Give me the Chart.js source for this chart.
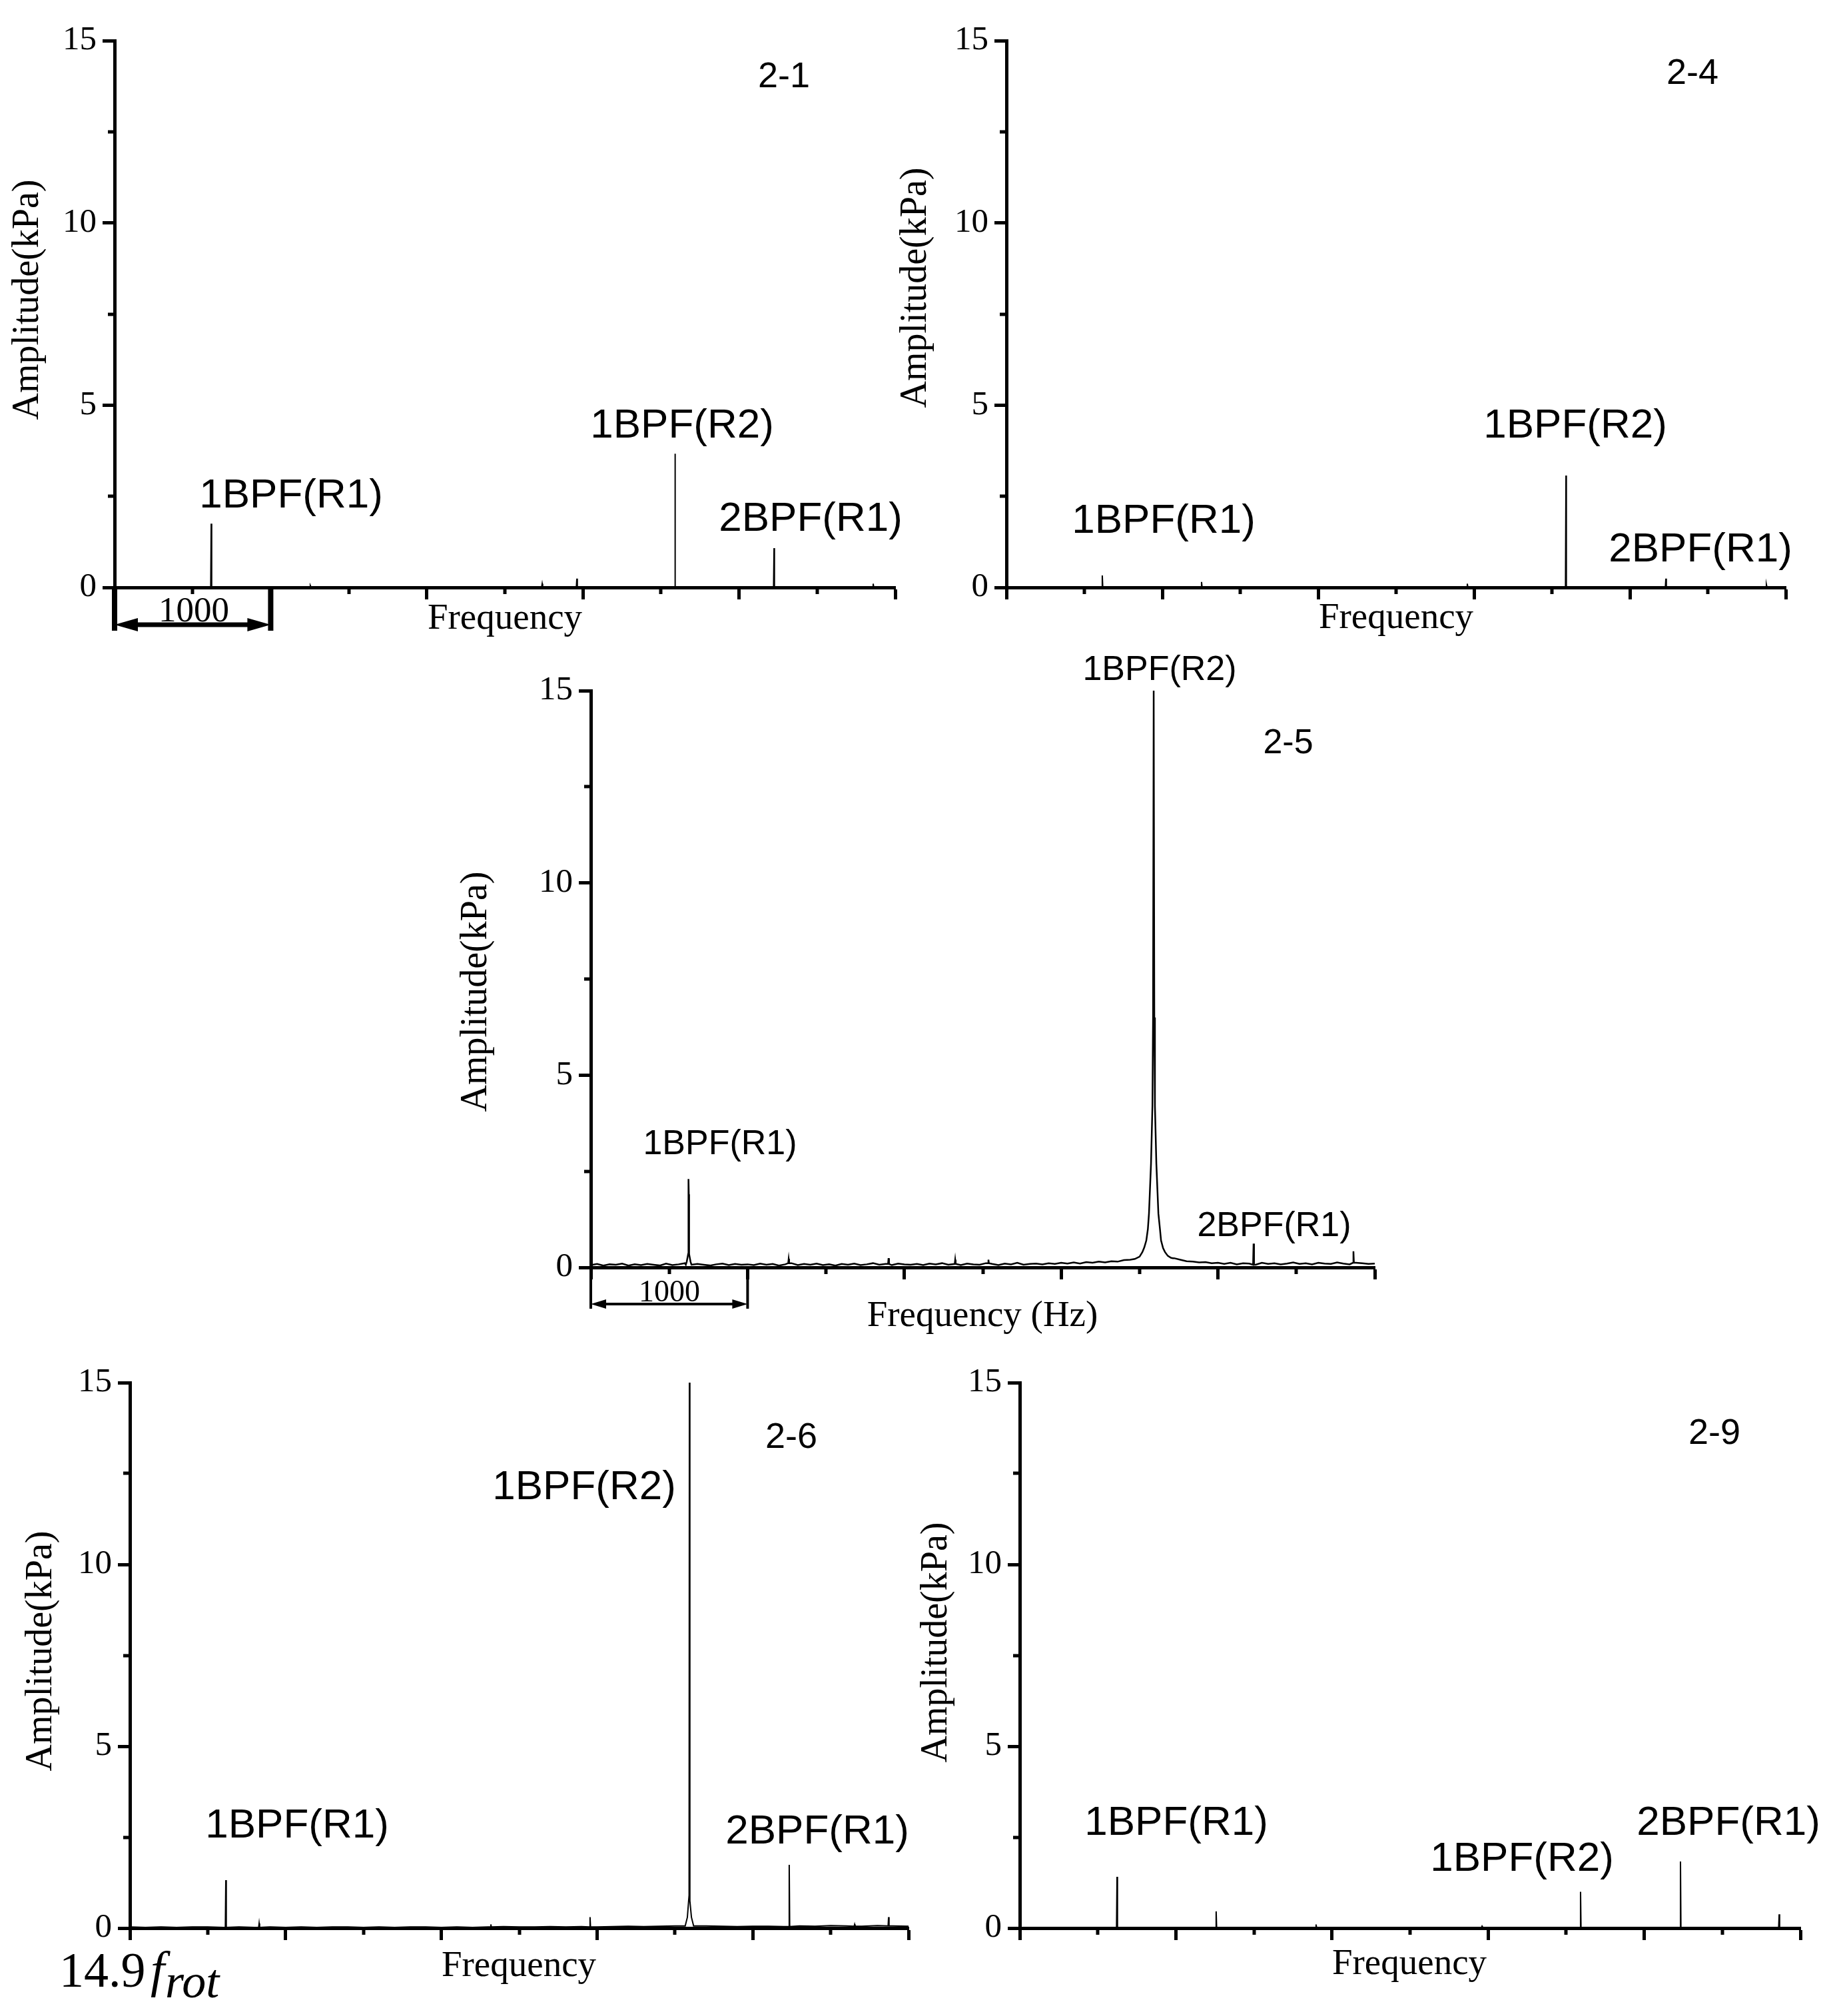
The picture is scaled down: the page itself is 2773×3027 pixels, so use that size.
<!DOCTYPE html>
<html lang="en">
<head>
    <meta charset="UTF-8">
    <title>Pressure amplitude spectra 2-1 / 2-4 / 2-5 / 2-6 / 2-9</title>
    <script src="https://cdn.jsdelivr.net/npm/chart.js"></script>
    <style>
        * { margin: 0; padding: 0; box-sizing: border-box; }
        body {
            width: 2773px;
            height: 3027px;
            background: #fff;
            position: relative;
            overflow: hidden;
        }
        canvas { position: absolute; }
    </style>
</head>
<body>
    <canvas id="c21"></canvas>
    <canvas id="c24"></canvas>
    <canvas id="c25"></canvas>
    <canvas id="c26"></canvas>
    <canvas id="c29"></canvas>

    <script>
        // ---------- shared axes ----------
        const xRange = [0, 5000];          // Hz
        const xMajorStep = 1000;
        const xMinorTicks = [500, 1500, 2500, 3500, 4500];
        const yRange = [0, 15];            // kPa
        const yMajorStep = 5;
        const yMinorTicks = [2.5, 7.5, 12.5];
        const bracketHz = 1000;            // the "1000" span marker

        // ---------- 2-1 ----------
        const floor21Step = 500;
        const floor21 = [0.02, 0.02, 0.02, 0.02, 0.02, 0.02, 0.02, 0.02, 0.02, 0.02, 0.02];
        const spike21Hz  = [619, 1254, 2739, 2961, 3589, 3591, 4224, 4226, 4859];
        const spike21KPa = [1.75, 0.05, 0.10, 0.24, 3.67, 1.13, 1.08, 0.37, 0.10];

        // ---------- 2-4 ----------
        const floor24Step = 500;
        const floor24 = [0.02, 0.02, 0.02, 0.02, 0.02, 0.02, 0.02, 0.02, 0.02, 0.02, 0.02];
        const spike24Hz  = [615, 1252, 2957, 3590, 3592, 4231, 4876];
        const spike24KPa = [0.33, 0.15, 0.10, 3.07, 0.77, 0.24, 0.08];

        // ---------- 2-5 (measured noise floor, 40 Hz bins) ----------
        const floor25Step = 40;
        const floor25 = [
            0.06, 0.09, 0.05, 0.08, 0.07, 0.10, 0.05, 0.08, 0.06, 0.09, 0.07, 0.05, 0.10,
            0.06, 0.08, 0.11, 0.06, 0.09, 0.07, 0.05, 0.08, 0.10, 0.06, 0.09, 0.07, 0.08,
            0.06, 0.10, 0.07, 0.09, 0.05, 0.08, 0.11, 0.06, 0.09, 0.07, 0.10, 0.06, 0.08,
            0.05, 0.09, 0.07, 0.10, 0.06, 0.08, 0.11, 0.07, 0.09, 0.06, 0.10, 0.08,
            0.07, 0.09, 0.06, 0.10, 0.08, 0.11, 0.07, 0.09, 0.06, 0.10, 0.08, 0.07, 0.11,
            0.09, 0.06, 0.10, 0.08, 0.12, 0.07, 0.09, 0.10, 0.08, 0.11, 0.09, 0.12,
            0.10, 0.13, 0.10, 0.14, 0.12, 0.15, 0.13, 0.16, 0.15, 0.19, 0.20, 0.26, 0.34,
            0.40, 0.50, 0.40, 0.30, 0.24, 0.20, 0.16, 0.15, 0.13, 0.14, 0.11, 0.12,
            0.09, 0.12, 0.08, 0.11, 0.10, 0.07, 0.12, 0.09, 0.11, 0.08, 0.10, 0.13, 0.09,
            0.11, 0.08, 0.12, 0.10, 0.09, 0.13, 0.10, 0.08, 0.12, 0.11, 0.09, 0.10
        ];
        const spike25Hz  = [1262, 1899, 2324, 2536, 4227, 4864];
        const spike25KPa = [0.22, 0.24, 0.20, 0.20, 0.62, 0.42];
        const peak25R1Hz  = [606, 612, 618, 621, 623, 625, 627, 630, 636, 642];
        const peak25R1KPa = [0.07, 0.15, 0.28, 0.35, 2.30, 1.90, 0.35, 0.28, 0.15, 0.07];
        const peak25R2Hz  = [3470, 3500, 3518, 3530, 3543, 3553, 3560, 3573, 3582, 3586, 3590,
                             3594, 3598, 3607, 3620, 3630, 3637, 3650, 3662, 3680, 3700, 3712];
        const peak25R2KPa = [0.22, 0.28, 0.40, 0.52, 0.70, 1.00, 1.40, 2.70, 4.20, 6.50, 15.0,
                             6.50, 4.20, 2.70, 1.40, 1.00, 0.70, 0.50, 0.40, 0.30, 0.25, 0.24];

        // ---------- 2-6 ----------
        const floor26Step = 100;
        const floor26 = [
            0.03, 0.02, 0.03, 0.02, 0.03, 0.03, 0.02, 0.03, 0.02, 0.03, 0.02,
            0.03, 0.02, 0.03, 0.03, 0.02, 0.03, 0.02, 0.03, 0.03, 0.02,
            0.03, 0.02, 0.03, 0.04, 0.03, 0.03, 0.04, 0.03, 0.04, 0.03,
            0.04, 0.05, 0.04, 0.05, 0.06, 0.08, 0.06, 0.05, 0.04, 0.05,
            0.05, 0.04, 0.06, 0.05, 0.07, 0.06, 0.05, 0.07, 0.06, 0.05
        ];
        const spike26Hz  = [616, 830, 2318, 2955, 4234, 4654, 4872];
        const spike26KPa = [1.32, 0.13, 0.10, 0.30, 1.74, 0.10, 0.30];
        const peak26R2Hz  = [3566, 3580, 3588, 3591, 3593, 3595, 3597, 3606, 3620];
        const peak26R2KPa = [0.06, 0.30, 0.75, 0.90, 15.2, 4.12, 0.75, 0.30, 0.06];

        // ---------- 2-9 ----------
        const floor29Step = 500;
        const floor29 = [0.02, 0.02, 0.02, 0.02, 0.02, 0.02, 0.02, 0.02, 0.02, 0.02, 0.02];
        const spike29Hz  = [623, 1258, 1898, 2961, 3592, 4232, 4864];
        const spike29KPa = [1.41, 0.46, 0.10, 0.05, 1.00, 1.83, 0.38];

        // join floor bins, narrow lines and measured peak shapes into one sorted trace
        function buildSpectrum(step, floor, spikeHz, spikeKPa, shapes) {
            const windows = spikeHz.map(f => [f - 4, f + 4])
                .concat(shapes.map(s => [s[0][0], s[0][s[0].length - 1]]));
            const pts = [];
            floor.forEach((v, i) => {
                const f = i * step;
                if (!windows.some(w => f >= w[0] - 1 && f <= w[1] + 1)) pts.push({ x: f, y: v });
            });
            const base = f => floor[Math.round(f / step)];
            spikeHz.forEach((f, i) => {
                pts.push({ x: f - 3, y: base(f) }, { x: f, y: spikeKPa[i] }, { x: f + 3, y: base(f) });
            });
            shapes.forEach(s => s[0].forEach((f, i) => pts.push({ x: f, y: s[1][i] })));
            return pts.sort((a, b) => a.x - b.x);
        }

        // ---------- layout ----------
        const SANS = "'Liberation Sans', Arial, sans-serif";
        const SERIF = "'Liberation Serif', 'Times New Roman', serif";
        const AXIS_W = 80;
        const AXIS_H = 40;
        const AXIS_LINE = 5;

        const panels = [
            {
                id: 'c21', box: [0, 0, 1400, 1000], area: [172, 61, 1344, 882], lineWidth: 2,
                points: buildSpectrum(floor21Step, floor21, spike21Hz, spike21KPa, []),
                texts: [
                    { t: '2-1', x: 1177, y: 131, font: '54px ' + SANS },
                    { t: '1BPF(R1)', x: 437, y: 762, font: '62px ' + SANS },
                    { t: '1BPF(R2)', x: 1024, y: 657, font: '62px ' + SANS },
                    { t: '2BPF(R1)', x: 1217, y: 797, font: '62px ' + SANS },
                    { t: 'Frequency', x: 758, y: 944, font: '55px ' + SERIF },
                    { t: 'Amplitude(kPa)', x: 57, y: 450, font: '56px ' + SERIF, rot: true }
                ],
                bracket: { top: 883, bottom: 947, arrowY: 938, bar: 8, line: 7, head: 35, headW: 10,
                           textX: 291, textY: 933, font: '53px ' + SERIF }
            },
            {
                id: 'c24', box: [1350, 0, 1423, 1000], area: [1511, 61, 2681, 882], lineWidth: 2,
                points: buildSpectrum(floor24Step, floor24, spike24Hz, spike24KPa, []),
                texts: [
                    { t: '2-4', x: 2541, y: 126, font: '54px ' + SANS },
                    { t: '1BPF(R2)', x: 2365, y: 657, font: '62px ' + SANS },
                    { t: '1BPF(R1)', x: 1747, y: 800, font: '62px ' + SANS },
                    { t: '2BPF(R1)', x: 2553, y: 843, font: '62px ' + SANS },
                    { t: 'Frequency', x: 2096, y: 943, font: '55px ' + SERIF },
                    { t: 'Amplitude(kPa)', x: 1390, y: 432, font: '56px ' + SERIF, rot: true }
                ]
            },
            {
                id: 'c25', box: [650, 960, 1500, 1060], area: [887, 1037, 2064, 1903], lineWidth: 2.5,
                points: buildSpectrum(floor25Step, floor25, spike25Hz, spike25KPa,
                    [[peak25R1Hz, peak25R1KPa], [peak25R2Hz, peak25R2KPa]]),
                texts: [
                    { t: '1BPF(R2)', x: 1741, y: 1021, font: '52px ' + SANS },
                    { t: '2-5', x: 1934, y: 1131, font: '52px ' + SANS },
                    { t: '1BPF(R1)', x: 1081, y: 1733, font: '52px ' + SANS },
                    { t: '2BPF(R1)', x: 1913, y: 1856, font: '52px ' + SANS },
                    { t: 'Frequency (Hz)', x: 1475, y: 1991, font: '55px ' + SERIF },
                    { t: 'Amplitude(kPa)', x: 730, y: 1489, font: '56px ' + SERIF, rot: true }
                ],
                bracket: { top: 1903, bottom: 1965, arrowY: 1958, bar: 4, line: 4, head: 23, headW: 7,
                           textX: 1005, textY: 1954, font: '46px ' + SERIF }
            },
            {
                id: 'c26', box: [0, 2020, 1400, 1007], area: [195, 2076, 1364, 2895], lineWidth: 2,
                points: buildSpectrum(floor26Step, floor26, spike26Hz, spike26KPa, [[peak26R2Hz, peak26R2KPa]]),
                texts: [
                    { t: '2-6', x: 1188, y: 2174, font: '54px ' + SANS },
                    { t: '1BPF(R2)', x: 877, y: 2251, font: '62px ' + SANS },
                    { t: '1BPF(R1)', x: 446, y: 2759, font: '62px ' + SANS },
                    { t: '2BPF(R1)', x: 1227, y: 2768, font: '62px ' + SANS },
                    { t: 'Frequency', x: 779, y: 2967, font: '55px ' + SERIF },
                    { t: 'Amplitude(kPa)', x: 77, y: 2479, font: '56px ' + SERIF, rot: true },
                    { t: '14.9', x: 89, y: 2983, font: '74px ' + SERIF, align: 'left' },
                    { t: 'f', x: 226, y: 2983, font: 'italic 76px ' + SERIF, align: 'left' },
                    { t: 'rot', x: 248, y: 2999, font: 'italic 72px ' + SERIF, align: 'left' }
                ]
            },
            {
                id: 'c29', box: [1350, 2020, 1423, 1007], area: [1531, 2076, 2703, 2895], lineWidth: 2,
                points: buildSpectrum(floor29Step, floor29, spike29Hz, spike29KPa, []),
                texts: [
                    { t: '2-9', x: 2574, y: 2168, font: '54px ' + SANS },
                    { t: '1BPF(R1)', x: 1766, y: 2755, font: '62px ' + SANS },
                    { t: '1BPF(R2)', x: 2285, y: 2809, font: '62px ' + SANS },
                    { t: '2BPF(R1)', x: 2595, y: 2755, font: '62px ' + SANS },
                    { t: 'Frequency', x: 2116, y: 2964, font: '55px ' + SERIF },
                    { t: 'Amplitude(kPa)', x: 1421, y: 2466, font: '56px ' + SERIF, rot: true }
                ]
            }
        ];

        // minor ticks, text and the span bracket, drawn in page coordinates
        function drawDecor(chart, p) {
            const ctx = chart.ctx;
            const ox = p.box[0], oy = p.box[1];
            const xs = chart.scales.x, ys = chart.scales.y;
            const area = chart.chartArea;
            ctx.save();
            ctx.translate(-ox, -oy);
            const L = area.left + ox, B = area.bottom + oy;

            ctx.strokeStyle = '#000';
            ctx.lineWidth = AXIS_LINE;
            xMinorTicks.forEach(v => {
                const x = Math.round(xs.getPixelForValue(v)) + ox;
                ctx.beginPath(); ctx.moveTo(x, B); ctx.lineTo(x, B + 10); ctx.stroke();
            });
            yMinorTicks.forEach(v => {
                const y = Math.round(ys.getPixelForValue(v)) + oy;
                ctx.beginPath(); ctx.moveTo(L, y); ctx.lineTo(L - 10, y); ctx.stroke();
            });

            ctx.fillStyle = '#000';
            ctx.textBaseline = 'alphabetic';
            p.texts.forEach(tx => {
                ctx.font = tx.font;
                ctx.textAlign = tx.align || 'center';
                if (tx.rot) {
                    ctx.save();
                    ctx.translate(tx.x, tx.y);
                    ctx.rotate(-Math.PI / 2);
                    ctx.fillText(tx.t, 0, 0);
                    ctx.restore();
                } else {
                    ctx.fillText(tx.t, tx.x, tx.y);
                }
            });

            const b = p.bracket;
            if (b) {
                const x0 = xs.getPixelForValue(xRange[0]) + ox;
                const x1 = xs.getPixelForValue(xRange[0] + bracketHz) + ox;
                ctx.lineWidth = b.bar;
                ctx.beginPath();
                ctx.moveTo(x0, b.top); ctx.lineTo(x0, b.bottom);
                ctx.moveTo(x1, b.top); ctx.lineTo(x1, b.bottom);
                ctx.stroke();
                ctx.lineWidth = b.line;
                ctx.beginPath();
                ctx.moveTo(x0 + b.head * 0.6, b.arrowY); ctx.lineTo(x1 - b.head * 0.6, b.arrowY);
                ctx.stroke();
                ctx.beginPath();
                ctx.moveTo(x0, b.arrowY);
                ctx.lineTo(x0 + b.head, b.arrowY - b.headW);
                ctx.lineTo(x0 + b.head, b.arrowY + b.headW);
                ctx.closePath();
                ctx.moveTo(x1, b.arrowY);
                ctx.lineTo(x1 - b.head, b.arrowY - b.headW);
                ctx.lineTo(x1 - b.head, b.arrowY + b.headW);
                ctx.closePath();
                ctx.fill();
                ctx.font = b.font;
                ctx.textAlign = 'center';
                ctx.fillText(String(bracketHz), b.textX, b.textY);
            }
            ctx.restore();
        }

        function makeChart(p) {
            const cv = document.getElementById(p.id);
            const [ox, oy, w, h] = p.box;
            const [L, T, R, B] = p.area;
            cv.width = w;
            cv.height = h;
            cv.style.left = ox + 'px';
            cv.style.top = oy + 'px';

            const axisGrid = {
                display: true,
                drawOnChartArea: false,
                drawTicks: true,
                tickLength: 18,
                tickWidth: AXIS_LINE,
                tickColor: '#000'
            };
            const axisBorder = { display: true, color: '#000', width: AXIS_LINE };

            return new Chart(cv.getContext('2d'), {
                type: 'line',
                data: {
                    datasets: [{
                        data: p.points,
                        borderColor: '#000',
                        borderWidth: p.lineWidth,
                        pointRadius: 0,
                        tension: 0,
                        fill: false
                    }]
                },
                options: {
                    responsive: false,
                    animation: false,
                    devicePixelRatio: 1,
                    events: [],
                    layout: {
                        padding: {
                            left: L - ox - AXIS_W,
                            top: T - oy,
                            right: ox + w - R,
                            bottom: oy + h - B - AXIS_H
                        }
                    },
                    plugins: {
                        legend: { display: false },
                        tooltip: { enabled: false }
                    },
                    scales: {
                        x: {
                            type: 'linear',
                            min: xRange[0],
                            max: xRange[1],
                            ticks: { stepSize: xMajorStep, display: false },
                            grid: axisGrid,
                            border: axisBorder,
                            afterFit: s => { s.height = AXIS_H; }
                        },
                        y: {
                            type: 'linear',
                            min: yRange[0],
                            max: yRange[1],
                            ticks: {
                                stepSize: yMajorStep,
                                color: '#000',
                                padding: 9,
                                font: { family: SERIF, size: 51 }
                            },
                            grid: axisGrid,
                            border: axisBorder,
                            afterFit: s => { s.width = AXIS_W; }
                        }
                    }
                },
                plugins: [{ id: 'decor', afterDraw: c => drawDecor(c, p) }]
            });
        }

        document.addEventListener('DOMContentLoaded', () => {
            panels.forEach(makeChart);
        });
    </script>
</body>
</html>
